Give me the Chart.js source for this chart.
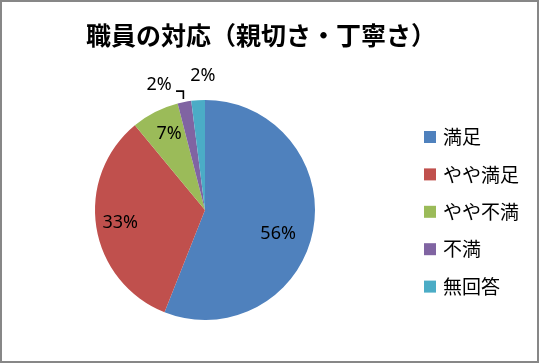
<!DOCTYPE html>
<html>
<head>
<meta charset="utf-8">
<script src="https://cdn.jsdelivr.net/npm/chart.js@4.4.0/dist/chart.umd.min.js"></script>
<style>
  body{ margin:0; background:#fff; }
  #wrap{ width:535px; height:359px; border:2px solid #878787; background:#fff; }
  canvas{ display:block; }
</style>
</head>
<body>
<div id="wrap"><canvas id="pie" width="535" height="359"></canvas></div>
<script>
// chart data
const titleText = '職員の対応（親切さ・丁寧さ）';
const categories = ['満足', 'やや満足', 'やや不満', '不満', '無回答'];
const percents = [56, 33, 7, 2, 2];
const colors = ['#4F81BD', '#C0504D', '#9BBB59', '#8064A2', '#4BACC6'];

// label placement: radius factor + angle tweak (deg) per slice
const labelPos = [
    {r:0.70, da:7.4},
    {r:0.78, da:0.3},
    {r:0.765, da:1.7},
    {r:1.21, da:-9.4},
    {r:1.22, da:2.7}
];

const extras = {
    id:'extras',
    afterDraw(chart){
        const ctx = chart.ctx;
        const arcs = chart.getDatasetMeta(0).data;
        ctx.save();

        // title
        ctx.fillStyle = '#000';
        ctx.font = 'bold 25px "Noto Sans CJK JP"';
        ctx.textAlign = 'center';
        ctx.textBaseline = 'middle';
        ctx.fillText(titleText, 259, 33);

        // data labels
        ctx.font = '18px "Noto Sans"';
        arcs.forEach((a, i)=>{
            const mid = (a.startAngle + a.endAngle)/2 + labelPos[i].da*Math.PI/180;
            const rr = a.outerRadius*labelPos[i].r;
            const lx = a.x + Math.cos(mid)*rr;
            const ly = a.y + Math.sin(mid)*rr;
            ctx.fillStyle = '#000';
            ctx.fillText(percents[i] + '%', lx, ly);
            if(i===3){
                // leader line for the small purple slice
                const m = (a.startAngle + a.endAngle)/2;
                const ex = a.x + Math.cos(m)*a.outerRadius;
                const ey = a.y + Math.sin(m)*a.outerRadius;
                ctx.strokeStyle = '#000';
                ctx.lineWidth = 1.6;
                ctx.beginPath();
                ctx.moveTo(ex - 1, ey - 3);
                ctx.lineTo(ex - 1, ly + 6);
                ctx.lineTo(lx + 17, ly + 6);
                ctx.stroke();
            }
        });

        // legend
        ctx.textAlign = 'left';
        ctx.font = '19px "Noto Sans CJK JP"';
        categories.forEach((c, i)=>{
            const y = 135 + i*37.4;
            ctx.fillStyle = colors[i];
            ctx.fillRect(422, y - 6, 12, 12);
            ctx.fillStyle = '#000';
            ctx.fillText(c, 441, y);
        });
        ctx.restore();
    }
};

new Chart(document.getElementById('pie'), {
    type:'pie',
    data:{ labels:categories, datasets:[{ data:percents, backgroundColor:colors, borderWidth:0 }] },
    options:{
        responsive:false,
        animation:false,
        layout:{ padding:{ left:93, right:222, top:98, bottom:41 } },
        plugins:{ legend:{display:false}, title:{display:false}, tooltip:{enabled:false} }
    },
    plugins:[extras]
});
</script>
</body>
</html>
